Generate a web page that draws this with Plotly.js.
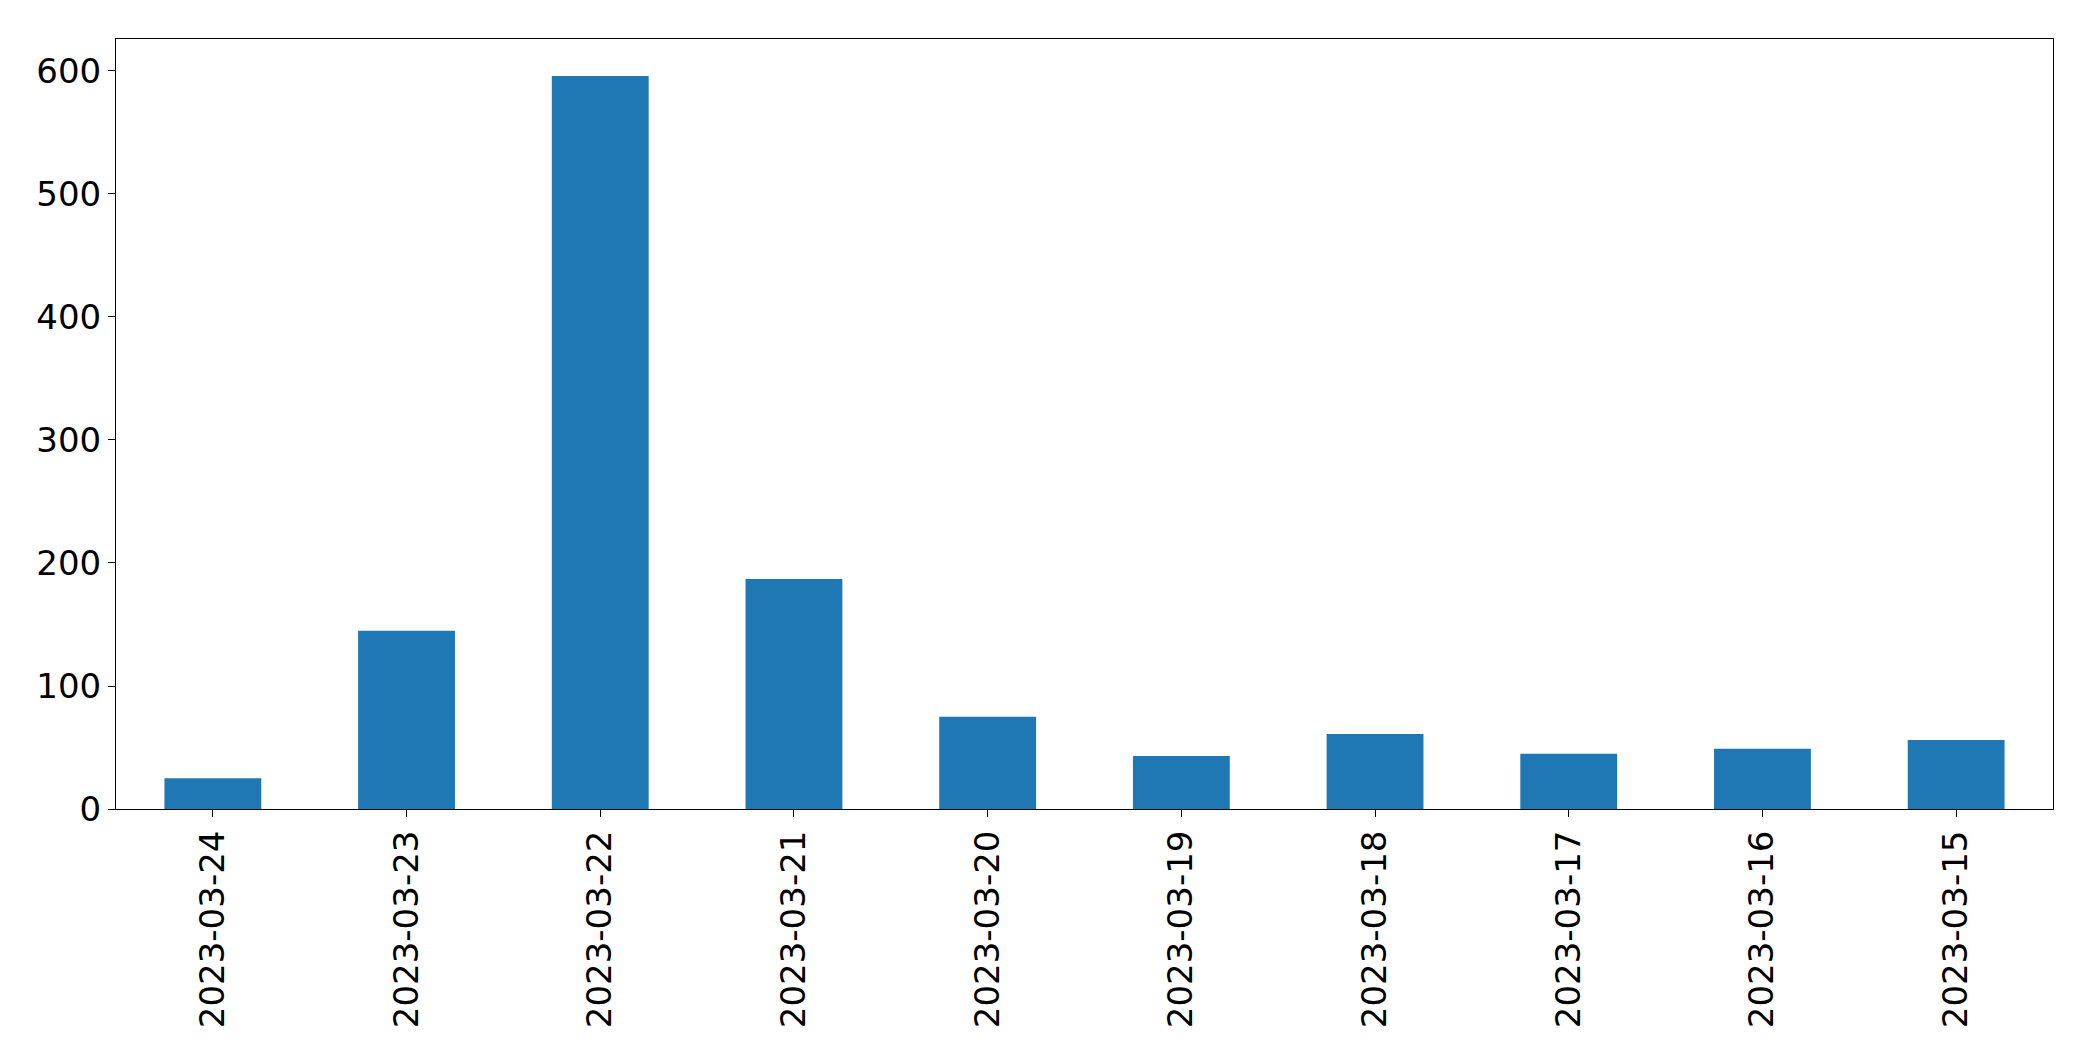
<!DOCTYPE html>
<html>
<head>
<meta charset="utf-8">
<script src="https://cdn.plot.ly/plotly-3.0.1.min.js"></script>
<style>
html, body { margin: 0; padding: 0; background: #fff; }
#chart { width: 2093px; height: 1061px; }
</style>
</head>
<body>
<div id="chart"></div>
<script>
const dates = ["2023-03-24", "2023-03-23", "2023-03-22", "2023-03-21", "2023-03-20",
               "2023-03-19", "2023-03-18", "2023-03-17", "2023-03-16", "2023-03-15"];
const counts = [25, 145, 596, 187, 75, 43, 61, 45, 49, 56];
const yTicks = [0, 100, 200, 300, 400, 500, 600];

const trace = {
  type: 'bar',
  x: dates,
  y: counts,
  width: 0.5,
  marker: { color: '#1f77b4', line: { width: 0 } },
  hoverinfo: 'x+y'
};

const layout = {
  width: 2093,
  height: 1061,
  paper_bgcolor: '#ffffff',
  plot_bgcolor: '#ffffff',
  margin: { l: 116, r: 40, t: 39, b: 252, pad: 0 },
  showlegend: false,
  font: { family: 'DejaVu Sans, sans-serif', size: 34, color: '#000' },
  xaxis: {
    type: 'category',
    range: [-0.5, 9.5],
    tickangle: -90,
    ticks: 'outside',
    ticklen: 7,
    tickwidth: 1,
    tickcolor: '#000',
    showgrid: false,
    zeroline: false,
    showline: true,
    linecolor: '#000',
    linewidth: 1,
    mirror: true,
    tickfont: { family: 'DejaVu Sans, sans-serif', size: 34, color: '#000' }
  },
  yaxis: {
    range: [0, 626],
    tickvals: yTicks,
    ticktext: yTicks.map(String),
    ticks: 'outside',
    ticklen: 7,
    tickwidth: 1,
    tickcolor: '#000',
    showgrid: false,
    zeroline: false,
    showline: true,
    linecolor: '#000',
    linewidth: 1,
    mirror: true,
    tickfont: { family: 'DejaVu Sans, sans-serif', size: 34, color: '#000' }
  }
};

Plotly.newPlot('chart', [trace], layout, { displayModeBar: false, staticPlot: true });
</script>
</body>
</html>
